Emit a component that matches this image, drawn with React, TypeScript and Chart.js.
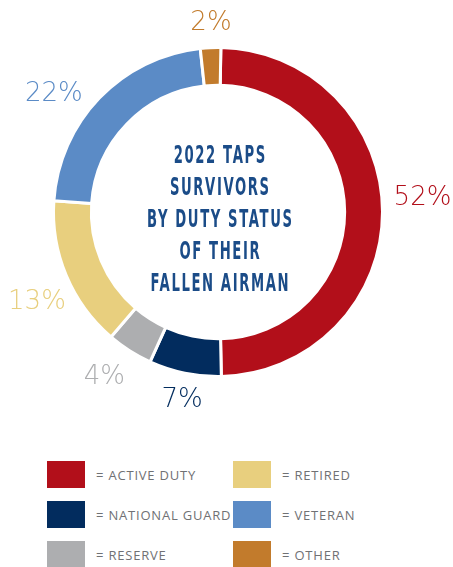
import React, { useEffect, useRef } from "react";
import { Chart, registerables } from "chart.js";
Chart.register(...registerables);

const categories = ["ACTIVE DUTY", "NATIONAL GUARD", "RESERVE", "RETIRED", "VETERAN", "OTHER"];
// arc sizes as drawn in the picture (share of the ring, %)
const values = [49.4, 7.1, 4.5, 14.8, 22.2, 2.0];
// percentages printed beside the ring
const percentLabels = ["52%", "7%", "4%", "13%", "22%", "2%"];
const colors = ["#b20f1a", "#022c5e", "#adaeb0", "#e8cf7e", "#5b8bc6", "#c27b2c"];
const titleLines = ["2022 TAPS", "SURVIVORS", "BY DUTY STATUS", "OF THEIR", "FALLEN AIRMAN"];
const legendColumns = [[0, 1, 2], [3, 4, 5]];
const labelNudges = [[6, -16], [4, -8], [-7, -4], [2, 11], [-21, 17], [2, 7]];

const overlay = {
  id: "overlay",
  afterDatasetsDraw(chart: any) {
    const ctx = chart.ctx as CanvasRenderingContext2D;
    const meta = chart.getDatasetMeta(0);
    ctx.save();
    ctx.textAlign = "center";
    ctx.textBaseline = "alphabetic";
    meta.data.forEach((arc: any, i: number) => {
      const p = arc.getProps(["x", "y", "startAngle", "endAngle", "outerRadius"], true);
      const mid = (p.startAngle + p.endAngle) / 2;
      const r = p.outerRadius + 34;
      const px = p.x + Math.cos(mid) * r + labelNudges[i][0];
      const py = p.y + Math.sin(mid) * r + labelNudges[i][1];
      ctx.font = '200 26px "DejaVu Sans"';
      ctx.fillStyle = colors[i];
      ctx.fillText(percentLabels[i], px, py + 9);
    });
    const cx = meta.data[0].x;
    const cy = meta.data[0].y;
    ctx.font = 'bold 25px "DejaVu Sans"';
    (ctx as any).letterSpacing = "3px";
    ctx.fillStyle = "#1b4c88";
    const w = ctx.measureText("BY DUTY STATUS").width - 3;
    const sx = 145 / w;
    titleLines.forEach((line, k) => {
      ctx.save();
      ctx.translate(cx + 1.5 + 1.5 * sx, cy + 5.5 + (k - 2) * 32 + 9);
      ctx.scale(sx, 1);
      ctx.fillText(line, 0, 0);
      ctx.restore();
    });
    ctx.restore();
  },
};

export default function App() {
  const ref = useRef<HTMLCanvasElement>(null);
  useEffect(() => {
    document.body.style.margin = "0";
    const chart = new Chart(ref.current!, {
      type: "doughnut",
      data: {
        labels: categories,
        datasets: [
          {
            data: values,
            backgroundColor: colors,
            borderColor: "#ffffff",
            borderWidth: 3,
          },
        ],
      },
      options: {
        responsive: false,
        animation: false,
        events: [],
        cutout: "77%",
        rotation: 1,
        layout: { padding: { left: 52, top: 46, right: 69, bottom: 62 } },
        plugins: { legend: { display: false }, tooltip: { enabled: false } },
      },
      plugins: [overlay],
    });
    return () => chart.destroy();
  }, []);

  return (
    <div style={{ position: "absolute", left: 0, top: 0, width: 453, height: 567, background: "#fff", overflow: "hidden" }}>
      <canvas ref={ref} width={453} height={440} style={{ display: "block" }} />
      {legendColumns.map((col, c) =>
        col.map((idx, r) => (
          <div
            key={idx}
            style={{
              position: "absolute",
              left: c === 0 ? 47 : 233,
              top: 461 + r * 40,
              height: 27,
              display: "flex",
              alignItems: "center",
            }}
          >
            <div style={{ width: 38, height: 27, background: colors[idx] }} />
            <span
              style={{
                marginLeft: 11,
                fontFamily: '"Open Sans", sans-serif',
                fontSize: 13,
                letterSpacing: "0.8px",
                color: "#707174",
                whiteSpace: "nowrap",
              }}
            >
              = {categories[idx]}
            </span>
          </div>
        ))
      )}
    </div>
  );
}
